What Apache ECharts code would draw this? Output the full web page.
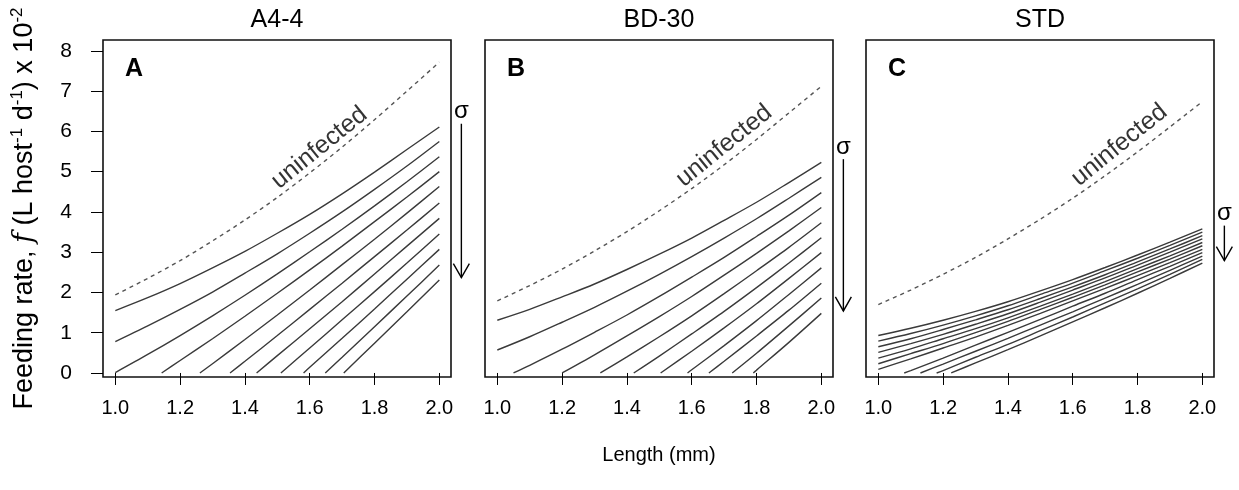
<!DOCTYPE html>
<html>
<head>
<meta charset="utf-8">
<script src="https://cdn.jsdelivr.net/npm/echarts@6/dist/echarts.min.js"></script>
<style>
  html, body { margin: 0; padding: 0; background: #ffffff; }
  #chart { width: 1239px; height: 490px; }
</style>
</head>
<body>
<div id="chart"></div>
<script>
// Host length grid (mm) at which every curve is tabulated
const LENGTHS = [1.0, 1.1, 1.2, 1.3, 1.4, 1.5, 1.6, 1.7, 1.8, 1.9, 2.0];
const X_TICKS = [1.0, 1.2, 1.4, 1.6, 1.8, 2.0];
const Y_TICKS = [0, 1, 2, 3, 4, 5, 6, 7, 8];

const PANEL_TITLES = ['A4-4', 'BD-30', 'STD'];
const PANEL_LETTERS = ['A', 'B', 'C'];

// Feeding rate (x 10^-2 L host^-1 d^-1) of uninfected hosts
const UNINF_A = [1.94, 2.35, 2.79, 3.28, 3.80, 4.36, 4.97, 5.61, 6.29, 7.00, 7.72];
const UNINF_B = [1.79, 2.17, 2.58, 3.03, 3.51, 4.03, 4.58, 5.17, 5.80, 6.46, 7.12];
const UNINF_C = [1.70, 2.06, 2.45, 2.87, 3.33, 3.82, 4.34, 4.90, 5.49, 6.11, 6.74];

// Infected hosts, one row per sigma value (increasing sigma downwards).
// null = feeding already zero at that length; START_* = length where the curve leaves zero.
const CURVES_A = [
  [1.55, 1.87, 2.22, 2.61, 3.02, 3.47, 3.94, 4.45, 4.99, 5.55, 6.11],
  [0.78, 1.17, 1.58, 2.01, 2.48, 2.96, 3.47, 4.00, 4.56, 5.14, 5.75],
  [0.01, 0.46, 0.93, 1.42, 1.93, 2.46, 3.01, 3.57, 4.15, 4.75, 5.37],
  [null, null, 0.31, 0.85, 1.41, 1.98, 2.56, 3.15, 3.76, 4.37, 5.00],
  [null, null, null, 0.23, 0.83, 1.44, 2.06, 2.69, 3.32, 3.97, 4.63],
  [null, null, null, null, 0.29, 0.93, 1.58, 2.23, 2.89, 3.55, 4.22],
  [null, null, null, null, null, 0.43, 1.10, 1.77, 2.46, 3.15, 3.84],
  [null, null, null, null, null, null, 0.62, 1.32, 2.02, 2.73, 3.45],
  [null, null, null, null, null, null, 0.14, 0.86, 1.59, 2.33, 3.07],
  [null, null, null, null, null, null, null, 0.39, 1.15, 1.91, 2.68],
  [null, null, null, null, null, null, null, null, 0.74, 1.52, 2.31]
];
const START_A = [null, null, null, 1.143, 1.261, 1.354, 1.436, 1.511, 1.581, 1.648, 1.705];

const CURVES_B = [
  [1.31, 1.58, 1.89, 2.21, 2.57, 2.95, 3.35, 3.79, 4.24, 4.73, 5.23],
  [0.57, 0.90, 1.26, 1.63, 2.03, 2.45, 2.89, 3.35, 3.83, 4.34, 4.86],
  [null, 0.19, 0.59, 1.01, 1.44, 1.90, 2.38, 2.87, 3.39, 3.92, 4.48],
  [null, null, null, 0.45, 0.92, 1.40, 1.90, 2.43, 2.97, 3.53, 4.11],
  [null, null, null, null, 0.40, 0.90, 1.42, 1.97, 2.54, 3.12, 3.73],
  [null, null, null, null, null, 0.42, 0.97, 1.53, 2.12, 2.73, 3.36],
  [null, null, null, null, null, null, 0.54, 1.12, 1.72, 2.35, 2.99],
  [null, null, null, null, null, null, 0.08, 0.68, 1.30, 1.95, 2.61],
  [null, null, null, null, null, null, null, 0.29, 0.92, 1.56, 2.23],
  [null, null, null, null, null, null, null, null, 0.49, 1.17, 1.86],
  [null, null, null, null, null, null, null, null, 0.07, 0.76, 1.48]
];
const START_B = [null, null, 1.05, 1.20, 1.318, 1.421, 1.504, 1.587, 1.653, 1.725, 1.79];

const CURVES_C = [
  [0.93, 1.11, 1.31, 1.53, 1.77, 2.04, 2.32, 2.62, 2.93, 3.25, 3.58],
  [0.79, 0.98, 1.19, 1.42, 1.67, 1.95, 2.23, 2.54, 2.85, 3.17, 3.50],
  [0.65, 0.85, 1.08, 1.32, 1.57, 1.85, 2.14, 2.44, 2.76, 3.08, 3.41],
  [0.51, 0.73, 0.96, 1.21, 1.47, 1.76, 2.06, 2.36, 2.68, 3.00, 3.33],
  [0.37, 0.60, 0.85, 1.10, 1.37, 1.66, 1.96, 2.27, 2.59, 2.91, 3.24],
  [0.23, 0.48, 0.73, 1.00, 1.28, 1.58, 1.88, 2.19, 2.51, 2.83, 3.16],
  [0.09, 0.35, 0.62, 0.89, 1.18, 1.48, 1.79, 2.10, 2.42, 2.74, 3.07],
  [null, 0.06, 0.37, 0.69, 1.01, 1.33, 1.66, 1.98, 2.32, 2.65, 2.99],
  [null, null, 0.22, 0.54, 0.86, 1.19, 1.52, 1.86, 2.20, 2.55, 2.90],
  [null, null, 0.06, 0.39, 0.71, 1.05, 1.39, 1.74, 2.09, 2.45, 2.82],
  [null, null, null, 0.25, 0.58, 0.92, 1.27, 1.62, 1.98, 2.35, 2.73]
];
const START_C = [null, null, null, null, null, null, null, 1.08, 1.13, 1.18, 1.225];

// Where the "uninfected" caption sits, in data units (length, feeding rate)
const UNINF_LABEL_AT = [[1.63, 5.59], [1.70, 5.64], [1.744, 5.66]];

const PANELS = [
  { uninf: UNINF_A, curves: CURVES_A, starts: START_A },
  { uninf: UNINF_B, curves: CURVES_B, starts: START_B },
  { uninf: UNINF_C, curves: CURVES_C, starts: START_C }
];

// ---- layout / style ----
const FONT = "'Liberation Sans', Arial, Helvetica, sans-serif";
const GRID_LEFT = [103, 485, 866];
const GRID_TOP = 40, GRID_W = 348, GRID_H = 337;
const X_MIN = 0.962, X_MAX = 2.036, Y_MIN = -0.1, Y_MAX = 8.27;
const LINE_COLOR = '#3a3a3a';
const ARROW_X = 2.068;

function curvePoints(vals, start) {
  const pts = [];
  if (start != null) pts.push([start, 0]);
  vals.forEach((v, i) => {
    if (v == null) return;
    if (start != null && LENGTHS[i] <= start) return;
    pts.push([LENGTHS[i], v]);
  });
  return pts;
}

const grids = [], xAxes = [], yAxes = [], series = [];

PANELS.forEach((p, k) => {
  grids.push({
    left: GRID_LEFT[k], top: GRID_TOP, width: GRID_W, height: GRID_H,
    show: true, borderColor: '#111', borderWidth: 1.6, backgroundColor: 'transparent'
  });
  xAxes.push({
    gridIndex: k, type: 'value', min: X_MIN, max: X_MAX,
    axisLine: { show: false },
    splitLine: { show: false },
    axisTick: { show: true, inside: false, length: 12, customValues: X_TICKS,
                lineStyle: { color: '#000', width: 1 } },
    axisLabel: { show: true, customValues: X_TICKS, margin: 21,
                 formatter: v => v.toFixed(1),
                 color: '#000', fontFamily: FONT, fontSize: 20 },
    name: k === 1 ? 'Length (mm)' : '',
    nameLocation: 'middle', nameGap: 68,
    nameTextStyle: { color: '#000', fontFamily: FONT, fontSize: 20 }
  });
  const isFirst = k === 0;
  yAxes.push({
    gridIndex: k, type: 'value', min: Y_MIN, max: Y_MAX,
    axisLine: { show: false },
    splitLine: { show: false },
    axisTick: { show: isFirst, inside: false, length: 12, customValues: Y_TICKS,
                lineStyle: { color: '#000', width: 1 } },
    axisLabel: { show: isFirst, customValues: Y_TICKS, margin: 31,
                 color: '#000', fontFamily: FONT, fontSize: 21 },
    name: isFirst ? '{t|Feeding rate, }{i|f}{t| (L host}{s|-1}{t| d}{s|-1}{t|) x 10}{s|-2}' : '',
    nameLocation: 'middle', nameRotate: 90, nameGap: 62,
    nameTextStyle: {
      color: '#000', fontFamily: FONT, fontSize: 27,
      rich: {
        t: { fontFamily: FONT, fontSize: 27, lineHeight: 32, color: '#000' },
        i: { fontFamily: "'DejaVu Serif', 'Liberation Serif', serif", fontStyle: 'italic',
             fontSize: 27, lineHeight: 32, color: '#000' },
        s: { fontFamily: FONT, fontSize: 17, lineHeight: 32, verticalAlign: 'top', color: '#000' }
      }
    }
  });

  // uninfected host: dashed
  series.push({
    type: 'line', xAxisIndex: k, yAxisIndex: k,
    data: curvePoints(p.uninf, null),
    smooth: 0.3, symbol: 'none', silent: true,
    lineStyle: { color: '#555', width: 1.4, type: [4, 4] }
  });
  // infected hosts, one solid line per sigma
  p.curves.forEach((vals, j) => {
    series.push({
      type: 'line', xAxisIndex: k, yAxisIndex: k,
      data: curvePoints(vals, p.starts[j]),
      smooth: 0.3, symbol: 'none', silent: true,
      lineStyle: { color: LINE_COLOR, width: 1.4 }
    });
  });
  // rotated caption along the dashed curve
  series.push({
    type: 'scatter', xAxisIndex: k, yAxisIndex: k,
    data: [UNINF_LABEL_AT[k]],
    symbolSize: 1, itemStyle: { color: 'rgba(0,0,0,0)' }, silent: true,
    label: {
      show: true, position: 'inside', formatter: 'uninfected', rotate: 39,
      color: '#000', fontFamily: FONT, fontSize: 25, align: 'center', verticalAlign: 'middle'
    }
  });
});

const chart = echarts.init(document.getElementById('chart'), null, { renderer: 'canvas' });
chart.setOption({
  animation: false,
  backgroundColor: '#ffffff',
  grid: grids, xAxis: xAxes, yAxis: yAxes, series: series
});

// Panel titles, letters and the sigma arrows beside each panel
const graphics = [];
PANELS.forEach((p, k) => {
  const cx = GRID_LEFT[k] + GRID_W / 2;
  graphics.push({
    type: 'text', x: cx, y: 20, silent: true,
    style: { text: PANEL_TITLES[k], fill: '#000', font: `25px ${FONT}`,
             align: 'center', verticalAlign: 'middle' }
  });
  graphics.push({
    type: 'text', x: GRID_LEFT[k] + 22, y: 69, silent: true,
    style: { text: PANEL_LETTERS[k], fill: '#000', font: `bold 25px ${FONT}`,
             align: 'left', verticalAlign: 'middle' }
  });
  const top = p.curves[0][LENGTHS.length - 1] + 0.08;
  const bottom = p.curves[p.curves.length - 1][LENGTHS.length - 1] + 0.06;
  const a = chart.convertToPixel({ gridIndex: k }, [ARROW_X, top]);
  const b = chart.convertToPixel({ gridIndex: k }, [ARROW_X, bottom]);
  graphics.push({
    type: 'line', silent: true,
    shape: { x1: a[0], y1: a[1], x2: b[0], y2: b[1] },
    style: { stroke: '#000', lineWidth: 1.4 }
  });
  graphics.push({
    type: 'polyline', silent: true,
    shape: { points: [[b[0] - 8, b[1] - 14], [b[0], b[1]], [b[0] + 8, b[1] - 14]] },
    style: { stroke: '#000', lineWidth: 1.4, fill: null }
  });
  graphics.push({
    type: 'text', x: a[0], y: a[1] - 12, silent: true,
    style: { text: 'σ', fill: '#000', font: `24px ${FONT}`,
             align: 'center', verticalAlign: 'middle' }
  });
});
chart.setOption({ graphic: graphics });
</script>
</body>
</html>
